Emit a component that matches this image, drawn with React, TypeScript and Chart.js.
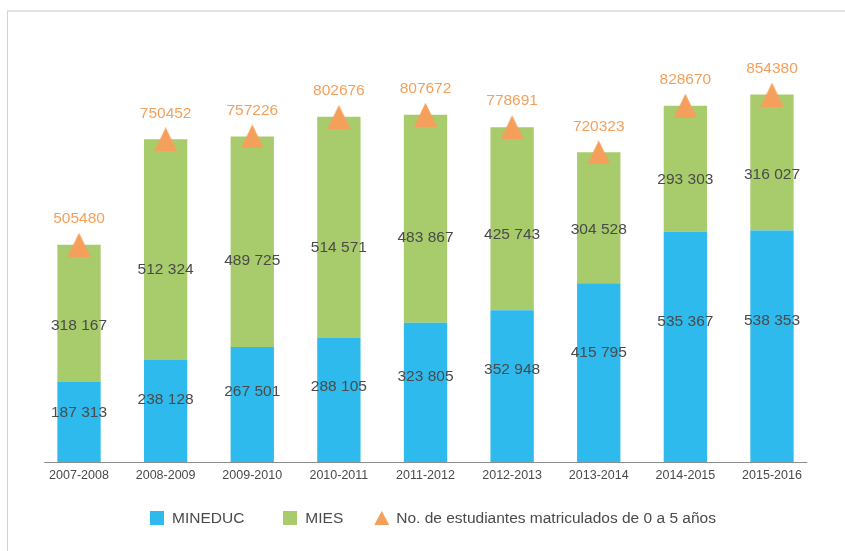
import React, { useEffect, useRef } from "react";
import { Chart, registerables } from "chart.js";

Chart.register(...registerables);

const categories = [
  "2007-2008",
  "2008-2009",
  "2009-2010",
  "2010-2011",
  "2011-2012",
  "2012-2013",
  "2013-2014",
  "2014-2015",
  "2015-2016",
];
const mineduc = [187313, 238128, 267501, 288105, 323805, 352948, 415795, 535367, 538353];
const mies = [318167, 512324, 489725, 514571, 483867, 425743, 304528, 293303, 316027];
const totals = [505480, 750452, 757226, 802676, 807672, 778691, 720323, 828670, 854380];
const seriesNames = ["MINEDUC", "MIES", "No. de estudiantes matriculados de 0 a 5 años"];

const BLUE = "#2EBAEC";
const GREEN = "#A8CB6C";
const ORANGE = "#F4A05C";
const TEXT = "#4a4a4a";
const FONT = "'Liberation Sans', Arial, Helvetica, sans-serif";

const fmtSpace = (v: number) => String(v).replace(/\B(?=(\d{3})+(?!\d))/g, " ");

function makeTriangle(): HTMLCanvasElement {
  const c = document.createElement("canvas");
  c.width = 23;
  c.height = 24;
  const g = c.getContext("2d")!;
  g.fillStyle = ORANGE;
  g.beginPath();
  g.moveTo(11.5, 0);
  g.lineTo(23, 24);
  g.lineTo(0, 24);
  g.closePath();
  g.fill();
  return c;
}

const labelPlugin = {
  id: "valueLabels",
  afterDatasetsDraw(chart: any) {
    const ctx = chart.ctx;
    ctx.save();
    ctx.textAlign = "center";
    ctx.textBaseline = "middle";
    chart.data.datasets.forEach((ds: any, di: number) => {
      const meta = chart.getDatasetMeta(di);
      meta.data.forEach((el: any, i: number) => {
        const v = ds.data[i];
        if (ds.type === "line") {
          ctx.fillStyle = ORANGE;
          ctx.font = `15.5px ${FONT}`;
          ctx.fillText(String(v), el.x, el.y - 26);
        } else {
          const frac = ds.labelFrac ?? 0.5;
          const top = Math.min(el.y, el.base);
          const bot = Math.max(el.y, el.base);
          ctx.fillStyle = TEXT;
          ctx.font = `15.5px ${FONT}`;
          ctx.fillText(fmtSpace(v), el.x, top + (bot - top) * frac);
        }
      });
    });
    ctx.restore();
  },
};

const baselinePlugin = {
  id: "baseline",
  afterDatasetsDraw(chart: any) {
    const { ctx, chartArea, scales } = chart;
    const y = Math.round(scales.y.getPixelForValue(0)) + 0.5;
    ctx.save();
    ctx.strokeStyle = "#8c8c8c";
    ctx.lineWidth = 1.2;
    ctx.beginPath();
    ctx.moveTo(chartArea.left + 8.5, y);
    ctx.lineTo(chartArea.right - 8, y);
    ctx.stroke();
    ctx.restore();
  },
};

export default function App() {
  const ref = useRef<HTMLCanvasElement | null>(null);

  useEffect(() => {
    if (!ref.current) return;
    const tri = makeTriangle();
    const chart = new Chart(ref.current, {
      type: "bar",
      data: {
        labels: categories,
        datasets: [
          {
            type: "bar",
            label: seriesNames[0],
            data: mineduc,
            backgroundColor: BLUE,
            borderWidth: 0,
            order: 1,
            labelFrac: 0.39,
          } as any,
          {
            type: "bar",
            label: seriesNames[1],
            data: mies,
            backgroundColor: GREEN,
            borderWidth: 0,
            order: 1,
            labelFrac: 0.59,
          } as any,
          {
            type: "line",
            label: seriesNames[2],
            data: totals,
            stack: "total",
            showLine: false,
            pointStyle: tri,
            pointRadius: 12,
            pointBackgroundColor: ORANGE,
            pointBorderWidth: 0,
            borderColor: ORANGE,
            backgroundColor: ORANGE,
            order: 0,
          } as any,
        ],
      },
      options: {
        responsive: false,
        animation: false,
        events: [],
        layout: { padding: { left: 35.7, right: 29.7, top: 32, bottom: 62 } },
        datasets: { bar: { barPercentage: 0.5, categoryPercentage: 1 } },
        plugins: {
          legend: { display: false },
          tooltip: { enabled: false },
        },
        scales: {
          x: {
            stacked: true,
            grid: { display: false, drawTicks: false },
            border: { display: false },
            ticks: {
              color: TEXT,
              padding: 6,
              maxRotation: 0,
              autoSkip: false,
              font: { family: FONT, size: 12.5 },
            },
          },
          y: {
            stacked: true,
            display: false,
            min: 0,
            max: 1000000,
          },
        },
      },
      plugins: [labelPlugin, baselinePlugin],
    } as any);
    return () => chart.destroy();
  }, []);

  const legendText: React.CSSProperties = {
    fontFamily: FONT,
    fontSize: 15.5,
    color: TEXT,
    lineHeight: "16px",
    whiteSpace: "nowrap",
  };

  return (
    <div
      style={{
        position: "absolute",
        left: 0,
        top: 0,
        width: 845,
        height: 551,
        overflow: "hidden",
        background: "#fff",
      }}
    >
      <div
        style={{
          position: "absolute",
          left: 7,
          top: 10,
          width: 838,
          height: 541,
          borderTop: "2px solid #e3e3e3",
          borderLeft: "1px solid #d2d2d2",
          boxSizing: "border-box",
        }}
      />
      <canvas
        ref={ref}
        width={845}
        height={551}
        style={{ position: "absolute", left: 0, top: 0, width: 845, height: 551, display: "block" }}
      />
      <div
        style={{
          position: "absolute",
          left: 150,
          top: 510,
          display: "flex",
          alignItems: "center",
        }}
      >
        <div style={{ width: 14, height: 14, background: BLUE, marginRight: 8 }} />
        <span style={{ ...legendText, marginRight: 39 }}>{seriesNames[0]}</span>
        <div style={{ width: 14, height: 14, background: GREEN, marginRight: 8 }} />
        <span style={{ ...legendText, marginRight: 31 }}>{seriesNames[1]}</span>
        <div
          style={{
            width: 15,
            height: 14,
            background: ORANGE,
            clipPath: "polygon(50% 0%, 100% 100%, 0% 100%)",
            marginRight: 7,
          }}
        />
        <span style={legendText}>{seriesNames[2]}</span>
      </div>
    </div>
  );
}
